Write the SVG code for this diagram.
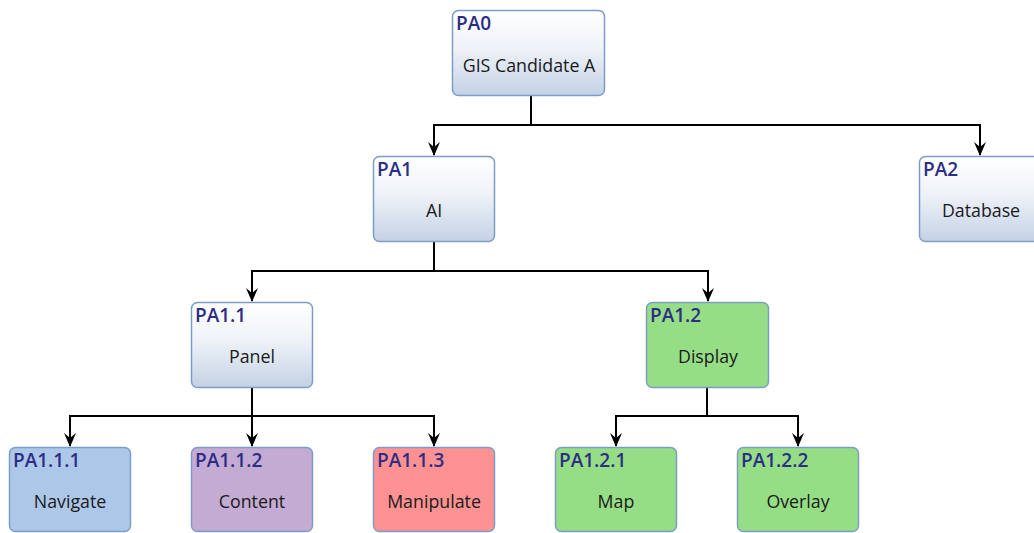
<svg xmlns="http://www.w3.org/2000/svg" width="1034" height="533" viewBox="0 0 1034 533">
<defs>
<linearGradient id="g" x1="0" y1="0" x2="0" y2="1">
<stop offset="0" stop-color="#ffffff"/>
<stop offset="0.45" stop-color="#eef2f8"/>
<stop offset="1" stop-color="#c4d2e5"/>
</linearGradient>
<marker id="arr" markerWidth="14" markerHeight="12" refX="13" refY="6" orient="auto" markerUnits="userSpaceOnUse" viewBox="0 0 14 12">
<path d="M0,0 L14,6 L0,12 L5,6 Z" fill="#000"/>
</marker>
</defs>
<style>
.n{stroke:#7e9dc6;stroke-width:1.5}
.w{fill:url(#g)}
.b{fill:#adc7e9}
.p{fill:#c3abd3}
.r{fill:#fe9292}
.gr{fill:#96de86}
.h{font-family:"Open Sans","Noto Sans",sans-serif;font-weight:600;font-size:19px;fill:#2d2d85}
.t{font-family:"Open Sans","Noto Sans",sans-serif;font-size:17.8px;fill:#1a1a1a;text-anchor:middle}
.c{fill:none;stroke:#000;stroke-width:2}
</style>
<g id="connectors">
<path class="c" d="M531,95 V125 H434 V155" marker-end="url(#arr)"/>
<path class="c" d="M531,125 H980 V155" marker-end="url(#arr)"/>
<path class="c" d="M434,241 V271 H252 V301" marker-end="url(#arr)"/>
<path class="c" d="M434,271 H708 V301" marker-end="url(#arr)"/>
<path class="c" d="M252,387 V416 H70 V446" marker-end="url(#arr)"/>
<path class="c" d="M252,416 V446" marker-end="url(#arr)"/>
<path class="c" d="M252,416 H434 V446" marker-end="url(#arr)"/>
<path class="c" d="M707,387 V416 H616 V446" marker-end="url(#arr)"/>
<path class="c" d="M707,416 H798 V446" marker-end="url(#arr)"/>
</g>
<g id="PA0">
<rect class="n w" x="452.5" y="10.5" width="152" height="85" rx="6"/>
<text class="h" x="456" y="30">PA0</text>
<text class="t" x="529" y="72">GIS Candidate A</text>
</g>
<g id="PA1">
<rect class="n w" x="373.5" y="156.5" width="121" height="85" rx="6"/>
<text class="h" x="377" y="176">PA1</text>
<text class="t" x="434" y="217">AI</text>
</g>
<g id="PA2">
<rect class="n w" x="919.5" y="156.5" width="121" height="85" rx="6"/>
<text class="h" x="923" y="176">PA2</text>
<text class="t" x="981" y="217">Database</text>
</g>
<g id="PA1.1">
<rect class="n w" x="191.5" y="302.5" width="121" height="85" rx="6"/>
<text class="h" x="195" y="322">PA1.1</text>
<text class="t" x="252" y="363">Panel</text>
</g>
<g id="PA1.2">
<rect class="n gr" x="646.5" y="302.5" width="122" height="85" rx="6"/>
<text class="h" x="650" y="322">PA1.2</text>
<text class="t" x="708" y="363">Display</text>
</g>
<g id="PA1.1.1">
<rect class="n b" x="9.5" y="447.5" width="121" height="84" rx="6"/>
<text class="h" x="13" y="467">PA1.1.1</text>
<text class="t" x="70" y="508">Navigate</text>
</g>
<g id="PA1.1.2">
<rect class="n p" x="191.5" y="447.5" width="121" height="84" rx="6"/>
<text class="h" x="195" y="467">PA1.1.2</text>
<text class="t" x="252" y="508">Content</text>
</g>
<g id="PA1.1.3">
<rect class="n r" x="373.5" y="447.5" width="121" height="84" rx="6"/>
<text class="h" x="377" y="467">PA1.1.3</text>
<text class="t" x="434" y="508">Manipulate</text>
</g>
<g id="PA1.2.1">
<rect class="n gr" x="555.5" y="447.5" width="121" height="84" rx="6"/>
<text class="h" x="559" y="467">PA1.2.1</text>
<text class="t" x="616" y="508">Map</text>
</g>
<g id="PA1.2.2">
<rect class="n gr" x="737.5" y="447.5" width="121" height="84" rx="6"/>
<text class="h" x="741" y="467">PA1.2.2</text>
<text class="t" x="798" y="508">Overlay</text>
</g>
</svg>
